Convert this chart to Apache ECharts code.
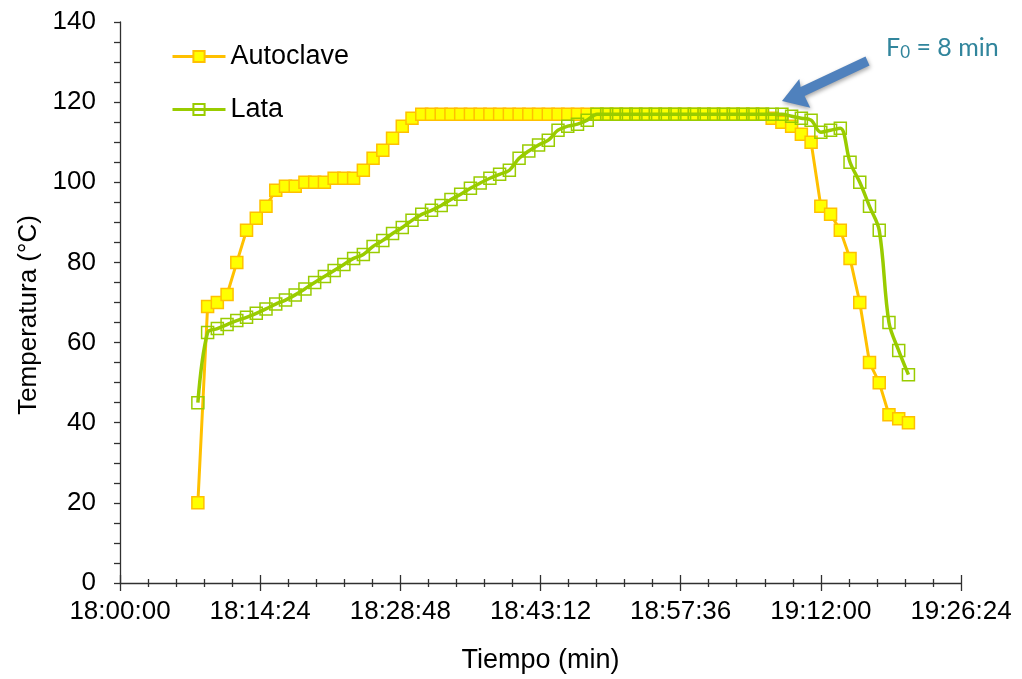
<!DOCTYPE html>
<html>
<head>
<meta charset="utf-8">
<script src="https://cdn.jsdelivr.net/npm/echarts@6/dist/echarts.min.js"></script>
<style>
html,body{margin:0;padding:0;background:#fff;}
#chart{width:1022px;height:679px;}
</style>
</head>
<body>
<div id="chart"></div>
<script>
// Time of each reading (HH:MM)
const timeLabels = [
 '18:08','18:09','18:10','18:11','18:12','18:13','18:14','18:15','18:16','18:17',
 '18:18','18:19','18:20','18:21','18:22','18:23','18:24','18:25','18:26','18:27',
 '18:28','18:29','18:30','18:31','18:32','18:33','18:34','18:35','18:36','18:37',
 '18:38','18:39','18:40','18:41','18:42','18:43','18:44','18:45','18:46','18:47',
 '18:48','18:49','18:50','18:51','18:52','18:53','18:54','18:55','18:56','18:57',
 '18:58','18:59','19:00','19:01','19:02','19:03','19:04','19:05','19:06','19:07',
 '19:08','19:09','19:10','19:11','19:12','19:13','19:14','19:15','19:16','19:17',
 '19:18','19:19','19:20','19:21'
];
// Autoclave temperature (°C)
const autoclave = [
 20,69,70,72,80,88,91,94,98,99,
 99,100,100,100,101,101,101,103,106,108,
 111,114,116,117,117,117,117,117,117,117,
 117,117,117,117,117,117,117,117,117,117,
 117,117,117,117,117,117,117,117,117,117,
 117,117,117,117,117,117,117,117,117,116,
 115,114,112,110,94,92,88,81,70,55,
 50,42,41,40
];
// Can (Lata) temperature (°C)
const lata = [
 45,62.5,63.5,64.5,65.5,66.3,67.3,68.4,69.6,70.6,
 71.9,73.4,75,76.5,78,79.5,81,82,84,85.5,
 87.2,88.7,90.5,92,93,94.2,95.7,97,98.5,99.8,
 101,102,103,106,107.8,109.3,110.5,113,114,114.5,
 115.5,117,117,117,117,117,117,117,117,117,
 117,117,117,117,117,117,117,117,117,117,
 117,116.5,116,115.5,112.5,113,113.5,105,100,94,
 88,65,58,52
];
// Axis settings (seconds since midnight)
const xMin = 64800, xMax = 69984, xStep = 864; // 18:00:00 .. 19:26:24, step 14:24
const yMin = 0, yMax = 140, yStep = 20;

const toSec = s => { const p = s.split(':'); return (+p[0]) * 3600 + (+p[1]) * 60 + (p[2] ? +p[2] : 0); };
const pad = n => String(n).padStart(2, '0');
const fmt = v => { v = Math.round(v); return pad(Math.floor(v / 3600)) + ':' + pad(Math.floor(v % 3600 / 60)) + ':' + pad(v % 60); };

const autoData = timeLabels.map((t, i) => [toSec(t), autoclave[i]]);
const lataData = timeLabels.map((t, i) => [toSec(t), lata[i]]);

const axisColor = '#303030';
const font = 'Liberation Sans, Arial, sans-serif';

const chart = echarts.init(document.getElementById('chart'), null, {renderer: 'canvas'});
chart.setOption({
  animation: false,
  backgroundColor: '#fff',
  grid: {left: 120, right: 61, top: 22, bottom: 94, containLabel: false},
  legend: {
    orient: 'vertical', left: 166, top: 38, itemGap: 26,
    itemWidth: 53, itemHeight: 14,
    textStyle: {fontSize: 27, color: '#000', fontFamily: font},
    data: [
      {name: 'Autoclave', lineStyle: {width: 3}},
      {name: 'Lata', lineStyle: {width: 3}}
    ]
  },
  xAxis: [{
    type: 'value', min: xMin, max: xMax, interval: xStep, position: 'bottom',
    axisLine: {show: true, onZero: false, lineStyle: {color: axisColor, width: 1.3}},
    axisTick: {show: true, inside: false, length: 8, lineStyle: {color: axisColor, width: 1.3}},
    minorTick: {show: true, splitNumber: 5, length: 4, lineStyle: {color: axisColor, width: 1.3}},
    splitLine: {show: false}, minorSplitLine: {show: false},
    axisLabel: {formatter: fmt, fontSize: 26, color: '#000', fontFamily: font, margin: 16},
    name: 'Tiempo (min)', nameLocation: 'middle', nameGap: 64,
    nameTextStyle: {fontSize: 27, color: '#000', fontFamily: font}
  }, {
    type: 'value', min: xMin, max: xMax, interval: xStep, position: 'bottom',
    axisLine: {show: false, onZero: false},
    axisTick: {show: true, inside: true, length: 8, lineStyle: {color: axisColor, width: 1.3}},
    minorTick: {show: true, splitNumber: 5, length: 4, lineStyle: {color: axisColor, width: 1.3}},
    splitLine: {show: false}, minorSplitLine: {show: false},
    axisLabel: {show: false}
  }],
  yAxis: {
    type: 'value', min: yMin, max: yMax, interval: yStep,
    axisLine: {show: true, onZero: false, lineStyle: {color: axisColor, width: 1.3}},
    axisTick: {show: true, inside: false, length: 6, lineStyle: {color: axisColor, width: 1.3}},
    minorTick: {show: true, splitNumber: 4, length: 6, lineStyle: {color: axisColor, width: 1.3}},
    splitLine: {show: false}, minorSplitLine: {show: false},
    axisLabel: {fontSize: 26, color: '#000', fontFamily: font, margin: 24}
  },
  series: [{
    name: 'Autoclave', type: 'line', xAxisIndex: 0, data: autoData,
    symbol: 'rect', symbolSize: 12, showAllSymbol: true,
    lineStyle: {color: '#FFC000', width: 3},
    itemStyle: {color: '#FFFF00', borderColor: '#FFC000', borderWidth: 1.5},
    z: 2
  }, {
    name: 'Lata', type: 'line', xAxisIndex: 0, data: lataData, smooth: 0.35,
    symbol: 'rect', symbolSize: 12, showAllSymbol: true,
    lineStyle: {color: '#99CC00', width: 3.5},
    itemStyle: {color: 'rgba(255,255,255,0)', borderColor: '#99CC00', borderWidth: 1.5},
    z: 3
  }],
  graphic: [{
    type: 'text', x: 29, y: 315, rotation: Math.PI / 2, z: 100,
    style: {text: 'Temperatura (°C)', fontSize: 26, fill: '#000', fontFamily: font, align: 'center', verticalAlign: 'middle'}
  }, {
    type: 'polygon', z: 100,
    shape: {points: [[869.5, 65.5], [804.6, 96.0], [810.3, 107.7], [782.0, 101.0], [799.3, 79.0], [800.6, 86.9], [865.5, 56.5]]},
    style: {fill: '#4F81BD', shadowBlur: 4, shadowColor: 'rgba(0,0,0,0.35)', shadowOffsetX: 1, shadowOffsetY: 2}
  }, {
    type: 'text', left: 886, top: 35, z: 100,
    style: {
      text: '{a|F}{s|0}{a| = 8 min}',
      rich: {
        a: {fontSize: 25, fill: '#31859C', fontFamily: 'Lato, Open Sans, sans-serif'},
        s: {fontSize: 17, fill: '#31859C', fontFamily: 'Lato, Open Sans, sans-serif', padding: [11, 0, 0, 0]}
      }
    }
  }]
});
</script>
</body>
</html>
